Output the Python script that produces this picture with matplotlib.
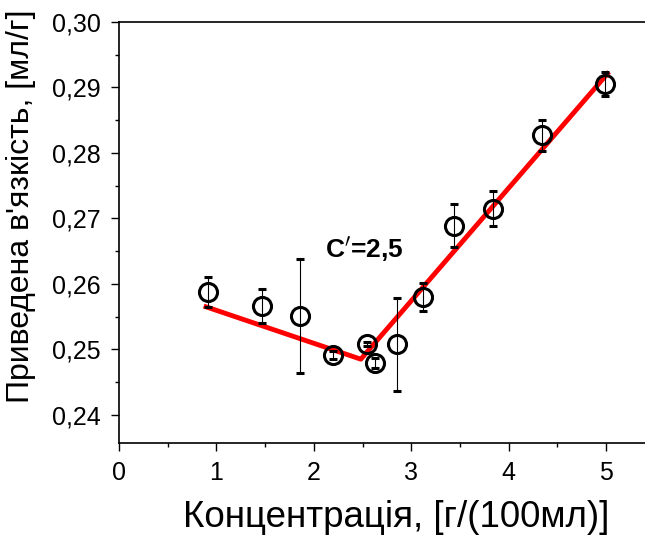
import numpy as np
import matplotlib
matplotlib.use("Agg")
import matplotlib.pyplot as plt
from matplotlib.ticker import MultipleLocator, FuncFormatter

plt.rcParams['font.family'] = ['Liberation Sans', 'DejaVu Sans']

# measured points
conc = [0.914, 1.468, 1.858, 2.197, 2.543, 2.628, 2.851, 3.124, 3.442, 3.840, 4.346, 4.993]
visc = [0.2588, 0.2566, 0.2551, 0.2491, 0.2508, 0.2479, 0.2508, 0.2580, 0.2689, 0.2715, 0.2827, 0.2905]
err = [0.0023, 0.0026, 0.0087, 0.0006, 0.0003, 0.0008, 0.0071, 0.0022, 0.0033, 0.0027, 0.0024, 0.0018]

# two-segment fit
fit_x = [0.893, 2.482, 5.013]
fit_y = [0.2565, 0.2485, 0.2921]

fig = plt.figure(figsize=(6.45, 5.37), dpi=100)
ax = fig.add_axes([119/645, 1-443/537, 531/645, 421/537])

ax.plot(fit_x, fit_y, color='red', lw=3.5, zorder=2)
ax.errorbar(conc, visc, yerr=err, fmt='o', ms=13, mfc='none', mec='black', mew=2.2,
            ecolor='black', elinewidth=0.8, capsize=3, capthick=0.8, zorder=3)

ax.text(2.515, 0.2654, "C$'$=2,5", fontsize=19, fontweight='bold', ha='center', va='center')

ax.set_xlim(0, 5.45)
ax.set_ylim(0.2357, 0.30)
ax.xaxis.set_major_locator(MultipleLocator(1))
ax.xaxis.set_minor_locator(MultipleLocator(0.5))
ax.yaxis.set_major_locator(MultipleLocator(0.01))
ax.yaxis.set_minor_locator(MultipleLocator(0.005))
ax.yaxis.set_major_formatter(FuncFormatter(lambda v, p: ('%.2f' % v).replace('.', ',')))
ax.tick_params(which='both', direction='out', top=False, right=False, labelsize=18, width=1)
ax.tick_params(which='major', length=6)
ax.tick_params(which='minor', length=3)
ax.tick_params(axis='y', pad=7)
ax.tick_params(axis='x', pad=7)
for s in ax.spines.values():
    s.set_linewidth(1.2)

ax.set_xlabel('Концентрація, [г/(100мл)]', fontsize=26.5)
ax.set_ylabel("Приведена в'язкість, [мл/г]", fontsize=23)
ax.xaxis.set_label_coords(0.5217, -0.135)
ax.yaxis.set_label_coords(-0.156, 0.563)

plt.savefig('out.png', dpi=100)
